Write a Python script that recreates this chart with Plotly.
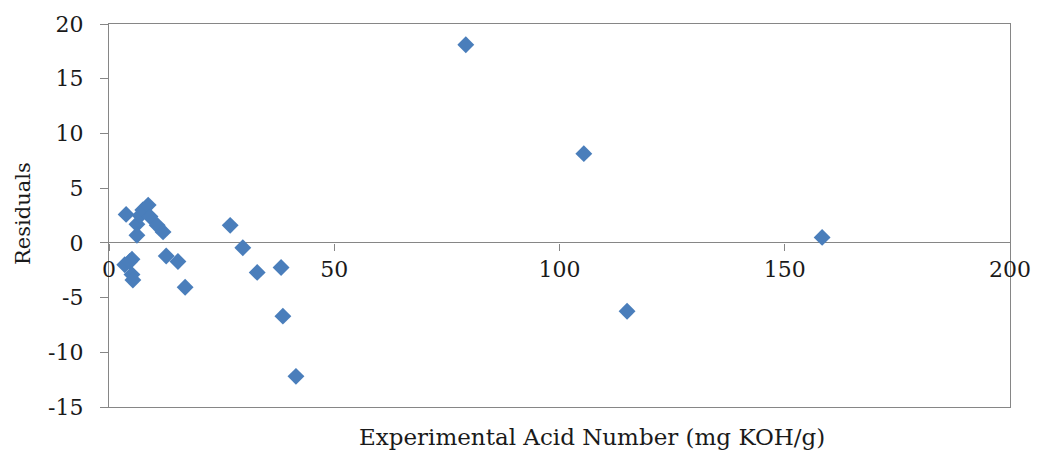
import plotly.graph_objects as go

acid_number = [79.2, 105.4, 158.3, 115.0, 41.5, 38.6, 38.2, 32.9, 29.7, 26.9, 16.9, 15.3, 12.7,
               3.8, 6.2, 6.2, 6.9, 7.5, 8.7, 9.1, 10.7, 12.0, 3.5, 5.1, 4.6, 5.1, 5.3]
residuals = [18.1, 8.15, 0.5, -6.25, -12.2, -6.7, -2.25, -2.7, -0.45, 1.6, -4.05, -1.7, -1.2,
             2.6, 1.7, 0.7, 2.5, 3.0, 3.45, 2.4, 1.6, 1.0, -2.0, -1.5, -1.7, -2.9, -3.4]

x_ticks = [0, 50, 100, 150, 200]
y_ticks = [-15, -10, -5, 0, 5, 10, 15, 20]

font_family = "DejaVu Serif"
axis_color = "#868686"
text_color = "#1a1a1a"

fig = go.Figure()
# invisible trace so the main (box) x axis is drawn
fig.add_trace(go.Scatter(
    x=acid_number, y=residuals, mode="markers", xaxis="x", yaxis="y",
    marker=dict(opacity=0), showlegend=False, hoverinfo="skip"))
fig.add_trace(go.Scatter(
    x=acid_number, y=residuals, mode="markers", xaxis="x2", yaxis="y",
    marker=dict(symbol="diamond", size=13, color="#4a7ebb", line=dict(width=0)),
    showlegend=False, hoverinfo="x+y"))

ymin, ymax = -15, 20
zero_pos = (0 - ymin) / (ymax - ymin)

fig.update_layout(
    width=1043, height=450,
    margin=dict(l=109, r=33, t=20, b=43),
    paper_bgcolor="white", plot_bgcolor="white",
    font=dict(family=font_family, size=22, color=text_color),
    xaxis=dict(range=[0, 200], showline=True, mirror=True, linecolor=axis_color, linewidth=1.3,
               showticklabels=False, ticks="", showgrid=False, zeroline=False, fixedrange=True),
    xaxis2=dict(range=[0, 200], overlaying="x", anchor="free", position=zero_pos, side="bottom",
                tickvals=x_ticks, ticktext=[str(v) for v in x_ticks],
                ticks="outside", ticklen=7, tickcolor=axis_color, tickwidth=1,
                showline=False, showgrid=False, zeroline=False,
                tickfont=dict(family=font_family, size=22, color=text_color)),
    yaxis=dict(range=[ymin, ymax], tickvals=y_ticks, ticktext=[str(v) for v in y_ticks],
               showline=True, mirror=True, linecolor=axis_color, linewidth=1.3,
               ticks="outside", ticklen=8, tickcolor=axis_color, showgrid=False,
               ticklabelstandoff=12,
               zeroline=True, zerolinecolor=axis_color, zerolinewidth=1.3,
               tickfont=dict(family=font_family, size=22, color=text_color)),
    annotations=[
        dict(text="Experimental Acid Number (mg KOH/g)", xref="paper", yref="paper",
             x=(592 - 109) / 901, y=0, xanchor="center", yanchor="middle", yshift=-30,
             showarrow=False, font=dict(family=font_family, size=23, color=text_color)),
        dict(text="Residuals", xref="paper", yref="paper", x=0, y=1 - (212 - 20) / 387,
             xanchor="center", yanchor="middle", xshift=-86, textangle=-90,
             showarrow=False, font=dict(family=font_family, size=21, color=text_color)),
    ],
)

fig.write_html("out.html")
